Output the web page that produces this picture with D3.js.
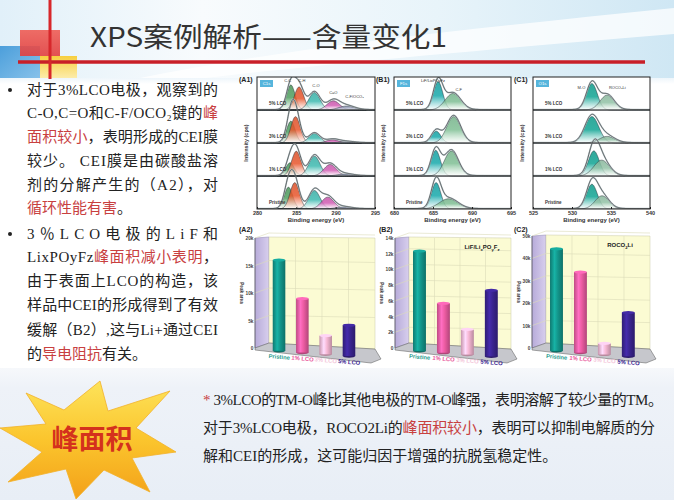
<!DOCTYPE html>
<html><head><meta charset="utf-8">
<script src="https://cdn.jsdelivr.net/npm/d3@7"></script>
<style>html,body{margin:0;padding:0;background:#fff;} svg{display:block}</style>
</head><body>
<svg id="c" width="674" height="500"></svg>
<script>
// ---------------- DATA ----------------
const titleText = "XPS案例解析——含量变化1";
const samples = ["Pristine", "1% LCO", "3% LCO", "5% LCO"];
const rowLabels = ["5% LCO", "3% LCO", "1% LCO", "Pristine"]; // XPS rows, top to bottom
const barColors = ["#13968b", "#ec5ca2", "#f6b8d4", "#3a2490"];
const catLabelColors = ["#2a9d8f", "#e8559a", "#f4c6da", "#3b2591"];

// (A2) C1s CEI peak area
const areaA2 = [16500, 9800, 3400, 5600];
const ticksA2 = [0, 5000, 10000, 15000, 20000];
const tickLabelsA2 = ["0", "5k", "10k", "15k", "20k"];
// (B2) LiF / LixPOyFz peak area
const areaB2 = [12700, 6300, 3200, 8400];
const ticksB2 = [0, 2000, 4000, 6000, 8000, 10000, 12000, 14000];
const tickLabelsB2 = ["0", "2k", "4k", "6k", "8k", "10k", "12k", "14k"];
// (C2) ROCO2Li peak area
const areaC2 = [45500, 36000, 5000, 19500];
const ticksC2 = [0, 10000, 20000, 30000, 40000, 50000];
const tickLabelsC2 = ["0", "10k", "20k", "30k", "40k", "50k"];

// XPS fitted components (center eV, relative height per row, sigma eV)
const c1sNames = ["C-C", "C-H", "C-O", "C=O", "C-F/OCO₂"];
const c1sColors = ["#4f9e5f", "#e8562c", "#3dbab0", "#d25cb4", "#9aa1bd"];
const c1sCenters = [
  [284.3, 285.35, 287.3, 289.7, 291.4],
  [284.3, 284.9, 287.3, 289.6, 291.3],
  [284.2, 285.0, 287.3, 289.3, 291.2],
  [284.0, 284.8, 287.3, 289.0, 291.0]];
const c1sHeights = [
  [0.76, 0.70, 0.53, 0.28, 0.12],
  [0.66, 0.80, 0.29, 0.10, 0.04],
  [0.40, 0.75, 0.60, 0.35, 0.06],
  [0.66, 0.80, 0.56, 0.36, 0.06]];
const c1sSigmas = [0.55, 0.6, 0.72, 0.8, 1.0];
const c1sTicks = [280, 285, 290, 295];

const f1sNames = ["LiF/LixPOyFz", "C-F"];
const f1sColors = ["#17a9ab", "#7fbf94"];
const f1sCenters = [[685.65, 687.55], [685.4, 687.65], [685.35, 687.35], [685.4, 687.0]];
const f1sHeights = [[0.86, 0.50], [0.36, 0.80], [0.78, 0.76], [0.80, 0.31]];
const f1sSigmas = [[0.6, 1.0], [0.6, 0.9], [0.6, 0.9], [0.6, 1.2]];
const f1sTicks = [680, 685, 690, 695];

const o1sNames = ["M-O", "ROCO₂Li"];
const o1sColors = ["#0fa493", "#92c2a6"];
const o1sCenters = [[532.55, 534.5], [532.55, 534.5], [532.8, 533.8], [532.55, 533.85]];
const o1sHeights = [[0.80, 0.45], [0.80, 0.20], [0.76, 0.48], [0.75, 0.40]];
const o1sSigmas = [[0.7, 0.9], [0.9, 1.0], [0.7, 1.0], [0.7, 0.9]];
const o1sTicks = [525, 530, 535, 540];

// Text content
const leftLines = [
  {y: 95, bullet: true, fit: true, segs: [["对于3%LCO电极，观察到的", 0]]},
  {y: 118, fit: true, segs: [["C-O,C=O和C-F/OCO₂键的", 0], ["峰", 1]]},
  {y: 142, fit: true, segs: [["面积较小", 1], ["，表明形成的CEI膜", 0]]},
  {y: 166, fit: true, segs: [["较少。 CEI膜是由碳酸盐溶", 0]]},
  {y: 190, fit: true, segs: [["剂的分解产生的（A2），对", 0]]},
  {y: 213, fit: false, segs: [["循环性能有害", 1], ["。", 0]]},
  {y: 239, bullet: true, fit: true, segs: [["3％LCO电极的LiF和", 0]]},
  {y: 262, fit: true, segs: [["LixPOyFz", 0], ["峰面积减小表明", 1], ["，", 0]]},
  {y: 286, fit: true, segs: [["由于表面上LCO的构造，该", 0]]},
  {y: 310, fit: true, segs: [["样品中CEI的形成得到了有效", 0]]},
  {y: 335, fit: true, segs: [["缓解（B2）,这与Li+通过CEI", 0]]},
  {y: 359, fit: false, segs: [["的", 0], ["导电阻抗", 1], ["有关。", 0]]}
];
const bottomLines = [
  {y: 405, len: 460, segs: [["* ", 1], ["3%LCO的TM-O峰比其他电极的TM-O峰强，表明溶解了较少量的TM。", 0]]},
  {y: 433, len: 452, segs: [["对于3%LCO电极，ROCO2Li的", 0], ["峰面积较小", 1], ["，表明可以抑制电解质的分", 0]]},
  {y: 461, len: null, segs: [["解和CEI的形成，这可能归因于增强的抗脱氢稳定性。", 0]]}
];
const starLabel = "峰面积";

// ---------------- DRAW ----------------
const svg = d3.select("#c");
const defs = svg.append("defs");
function lg(id, stops, x2 = 0, y2 = 1) {
  const g = defs.append("linearGradient").attr("id", id)
    .attr("x1", 0).attr("y1", 0).attr("x2", x2).attr("y2", y2);
  stops.forEach(([o, c, op]) => g.append("stop").attr("offset", o)
    .attr("stop-color", c).attr("stop-opacity", op == null ? 1 : op));
  return `url(#${id})`;
}
const SERIF = "'Liberation Serif','Noto Sans CJK SC',serif";
const SANS = "'Liberation Sans','Noto Sans CJK SC',sans-serif";
const RED = "#c8403f";

// background
svg.append("rect").attr("width", 674).attr("height", 500).attr("fill", "#ffffff");
svg.append("rect").attr("width", 674).attr("height", 80)
  .attr("fill", lg("topbg", [[0, "#e1f0f9"], [0.3, "#f8fbfd"], [0.65, "#e8f4fa"], [1, "#cfe7f4"]], 1, 0));
svg.append("path").attr("d", "M130 80 C300 45 480 28 674 8 L674 34 C480 50 300 66 190 80 Z")
  .attr("fill", "#ffffff").attr("opacity", 0.75);
svg.append("rect").attr("y", 78).attr("width", 674).attr("height", 6)
  .attr("fill", lg("fadeTop", [[0, "#eef6fb"], [1, "#ffffff"]]));
svg.append("rect").attr("y", 368).attr("width", 674).attr("height", 132)
  .attr("fill", lg("botbg", [[0, "#f6f8fb"], [0.15, "#eef2f8"], [1, "#e8eef6"]]));

// corner squares + red lines
svg.append("rect").attr("x", 0).attr("y", 46).attr("width", 40).attr("height", 32)
  .attr("fill", lg("bsq", [[0, "#4c9fdb"], [1, "#86c1ea"]], 1, 1));
svg.append("rect").attr("x", 20).attr("y", 30).attr("width", 40).attr("height", 26)
  .attr("fill", lg("rsq", [[0, "#ef5d55"], [1, "#e23f3f"]])).attr("opacity", 0.9);
svg.append("rect").attr("x", 40).attr("y", 56).attr("width", 37).attr("height", 22)
  .attr("fill", lg("ysq", [[0, "#f7cf3f"], [1, "#fcecaa"]]));
svg.append("line").attr("x1", 18).attr("x2", 645).attr("y1", 62).attr("y2", 62)
  .attr("stroke", "#c81f28").attr("stroke-width", 3.5);
svg.append("line").attr("x1", 50).attr("x2", 50).attr("y1", 0).attr("y2", 79)
  .attr("stroke", "#d7272b").attr("stroke-width", 3);

// title
svg.append("text").attr("x", 90).attr("y", 47).text(titleText)
  .attr("font-family", "'Noto Sans CJK SC',sans-serif").attr("font-size", 27)
  .attr("fill", "#333").attr("textLength", 357).attr("lengthAdjust", "spacingAndGlyphs");

// left text
leftLines.forEach(l => {
  if (l.bullet) svg.append("circle").attr("cx", 10).attr("cy", l.y - 5).attr("r", 2).attr("fill", "#222");
  const t = svg.append("text").attr("x", 27).attr("y", l.y)
    .attr("font-family", SERIF).attr("font-size", 15).attr("fill", "#222");
  if (l.fit) t.attr("textLength", 191).attr("lengthAdjust", "spacing");
  l.segs.forEach(([s, r]) => t.append("tspan").text(s).attr("fill", r ? RED : "#222"));
});

// ---------- XPS panels ----------
function xpsPanel(o) {
  const g = svg.append("g");
  const x = d3.scaleLinear().domain(o.domain).range([o.x0, o.x1]);
  const rowH = (o.y1 - o.y0) / 4;
  const clipId = "clip" + o.id;
  defs.append("clipPath").attr("id", clipId).append("rect")
    .attr("x", o.x0).attr("y", o.y0).attr("width", o.x1 - o.x0).attr("height", o.y1 - o.y0);
  g.append("rect").attr("x", o.x0).attr("y", o.y0).attr("width", o.x1 - o.x0).attr("height", o.y1 - o.y0)
    .attr("fill", "#fff");
  const gradIds = o.colors.map((c, k) => lg(`g${o.id}${k}`, [[0, d3.color(c).darker(0.2)], [0.5, c], [1, "#ffffff", 0.75]]));
  const pg = g.append("g").attr("clip-path", `url(#${clipId})`);
  const evs = d3.range(o.domain[0], o.domain[1] + 0.001, 0.05);
  for (let r = 0; r < 4; r++) {
    const base = o.y0 + (r + 1) * rowH;
    const comps = o.centers[r].map((c, k) => ({
      c, h: o.heights[r][k] * rowH,
      s: Array.isArray(o.sigmas[r]) ? o.sigmas[r][k] : o.sigmas[k]
    }));
    const f = (e, p) => p.h * Math.exp(-((e - p.c) ** 2) / (2 * p.s * p.s));
    comps.forEach((p, k) => {
      const area = d3.area().x(e => x(e)).y0(base).y1(e => base - f(e, p)).curve(d3.curveBasis);
      pg.append("path").datum(evs).attr("d", area).attr("fill", gradIds[k])
        .attr("fill-opacity", 0.85).attr("stroke", "#263238").attr("stroke-width", 0.5);
    });
    const env = d3.line().x(e => x(e)).y(e => base - d3.sum(comps, p => f(e, p)) * 1.03 - 0.5).curve(d3.curveBasis);
    pg.append("path").datum(evs).attr("d", env).attr("fill", "none").attr("stroke", "#b8c4c8").attr("stroke-width", 1.6);
    pg.append("path").datum(evs).attr("d", env).attr("fill", "none").attr("stroke", "#1b1b1b").attr("stroke-width", 0.55);
    g.append("text").attr("x", o.x0 + 12).attr("y", base - 5).text(rowLabels[r])
      .attr("font-family", SANS).attr("font-size", 4.5).attr("font-weight", "bold").attr("fill", "#333");
    if (r < 3) g.append("line").attr("x1", o.x0).attr("x2", o.x1).attr("y1", base).attr("y2", base)
      .attr("stroke", "#333").attr("stroke-width", 0.9);
  }
  g.append("rect").attr("x", o.x0).attr("y", o.y0).attr("width", o.x1 - o.x0).attr("height", o.y1 - o.y0)
    .attr("fill", "none").attr("stroke", "#222").attr("stroke-width", 1);
  // peak labels
  o.peakLabels.forEach(([name, e, yy]) => g.append("text").attr("x", x(e)).attr("y", yy).text(name)
    .attr("text-anchor", "middle").attr("font-family", SANS).attr("font-size", 4).attr("fill", "#333"));
  // core level tag
  g.append("rect").attr("x", o.x0 + 3).attr("y", o.y0 + 3).attr("width", 13).attr("height", 7).attr("fill", "#56b5dc");
  g.append("text").attr("x", o.x0 + 9.5).attr("y", o.y0 + 8.3).text(o.core).attr("text-anchor", "middle")
    .attr("font-family", SANS).attr("font-size", 4.3).attr("fill", "#fff");
  // axis
  const ax = g.append("g").attr("transform", `translate(0,${o.y1})`)
    .call(d3.axisBottom(x).tickValues(o.ticks).tickSize(-2).tickPadding(2).tickFormat(d3.format("d")));
  ax.select(".domain").remove();
  ax.selectAll("text").attr("font-family", SANS).attr("font-size", 5.5).attr("font-weight", "bold").attr("fill", "#333");
  ax.selectAll("line").attr("stroke", "#222");
  g.append("text").attr("x", (o.x0 + o.x1) / 2).attr("y", o.y1 + 13).text("Binding energy (eV)")
    .attr("text-anchor", "middle").attr("font-family", SANS).attr("font-size", 6).attr("font-weight", "bold").attr("fill", "#333");
  g.append("text").attr("transform", `translate(${o.x0 - 9},${(o.y0 + o.y1) / 2}) rotate(-90)`).text("Intensity (cps)")
    .attr("text-anchor", "middle").attr("font-family", SANS).attr("font-size", 5.5).attr("font-weight", "bold").attr("fill", "#333");
  g.append("text").attr("x", o.lx).attr("y", o.y0 + 5).text(o.label)
    .attr("font-family", SANS).attr("font-size", 7).attr("font-weight", "bold").attr("fill", "#222");
}

xpsPanel({id: "A1", x0: 257, x1: 375, y0: 77, y1: 209, domain: [280, 295], ticks: c1sTicks,
  colors: c1sColors, centers: c1sCenters, heights: c1sHeights, sigmas: c1sSigmas, core: "C1s", label: "(A1)", lx: 239,
  peakLabels: [[c1sNames[0], 283.9, 82], [c1sNames[1], 285.7, 82], [c1sNames[2], 287.5, 87], [c1sNames[3], 289.7, 94], [c1sNames[4], 292.4, 98]]});
xpsPanel({id: "B1", x0: 394, x1: 511, y0: 77, y1: 209, domain: [680, 695], ticks: f1sTicks,
  colors: f1sColors, centers: f1sCenters, heights: f1sHeights, sigmas: f1sSigmas, core: "F1s", label: "(B1)", lx: 376,
  peakLabels: [[f1sNames[0], 685.0, 82], [f1sNames[1], 688.3, 91]]});
xpsPanel({id: "C1", x0: 533, x1: 650, y0: 77, y1: 209, domain: [525, 540], ticks: o1sTicks,
  colors: o1sColors, centers: o1sCenters, heights: o1sHeights, sigmas: o1sSigmas, core: "O1s", label: "(C1)", lx: 514,
  peakLabels: [[o1sNames[0], 531.2, 89], [o1sNames[1], 535.8, 89]]});

// ---------- 3D-style bar panels ----------
const cylGrads = barColors.map((c, i) => lg("cyl" + i,
  [[0, d3.color(c).darker(0.6)], [0.35, d3.color(c).brighter(0.5)], [0.6, c], [1, d3.color(c).darker(0.8)]], 1, 0));
const wallGrad = lg("wall", [[0, "#b7abd9"], [1, "#d8cfee"]], 1, 0);
function barPanel(o) {
  const g = svg.append("g");
  const dx = 14, dy = 5, tilt = 9;
  const y = d3.scaleLinear().domain([0, o.ticks[o.ticks.length - 1]]).range([o.zero, o.top]);
  const xs = d3.scaleBand().domain(samples).range([o.ax + 7, o.ax + 7 + 4 * o.step]).padding(0.46);
  const baseAt = xx => o.zero + (xx - o.ax) / (o.right - o.ax) * tilt + 1;
  // walls
  g.append("path").attr("d", `M${o.ax},${o.top} L${o.ax + dx},${o.top - 1} L${o.ax + dx},${o.zero - dy} L${o.ax},${o.zero} Z`)
    .attr("fill", wallGrad).attr("stroke", "#8f86b0").attr("stroke-width", 0.5);
  g.append("path").attr("d", `M${o.ax + dx},${o.top - 1} L${o.right},${o.top} L${o.right},${o.zero + 1} L${o.ax + dx},${o.zero - dy} Z`)
    .attr("fill", "#fbfbd3").attr("stroke", "#c9c9a8").attr("stroke-width", 0.5);
  // grid
  o.ticks.forEach(t => {
    if (t === 0) return;
    const yy = y(t);
    g.append("path").attr("d", `M${o.ax},${yy} L${o.ax + dx},${yy - dy} L${o.right},${yy - dy + 2}`)
      .attr("fill", "none").attr("stroke", "#dcdcb8").attr("stroke-width", 0.6);
  });
  for (let k = 1; k < 4; k++) {
    const xx = o.ax + dx + k * (o.right - o.ax - dx) / 4;
    g.append("line").attr("x1", xx).attr("x2", xx).attr("y1", o.top).attr("y2", o.zero - 2)
      .attr("stroke", "#dcdcb8").attr("stroke-width", 0.6);
  }
  // floor
  g.append("path").attr("d", `M${o.ax},${o.zero} L${o.ax + dx},${o.zero - dy} L${o.right},${o.zero + 1} L${o.right + 6},${o.zero + tilt + 2} L${o.right - 4},${o.zero + tilt + 6} L${o.ax},${o.zero + 2} Z`)
    .attr("fill", "#c6c7cc").attr("stroke", "#555").attr("stroke-width", 0.5);
  // bars
  samples.forEach((s, i) => {
    const v = o.values[i];
    const xc = xs(s) + xs.bandwidth() / 2, w = xs.bandwidth();
    const b = baseAt(xc), h = o.zero - y(v), top = b - h;
    g.append("ellipse").attr("cx", xc).attr("cy", b).attr("rx", w / 2).attr("ry", 1.6).attr("fill", d3.color(barColors[i]).darker(0.8));
    g.append("rect").attr("x", xc - w / 2).attr("y", top).attr("width", w).attr("height", h).attr("fill", cylGrads[i]);
    g.append("ellipse").attr("cx", xc).attr("cy", top).attr("rx", w / 2).attr("ry", 1.6)
      .attr("fill", d3.color(barColors[i]).brighter(0.4));
    g.append("text").attr("transform", `translate(${xc},${b + 8}) rotate(5)`).text(s)
      .attr("text-anchor", "middle").attr("font-family", SANS).attr("font-size", 5.8).attr("font-weight", "bold")
      .attr("fill", catLabelColors[i]);
  });
  // y ticks
  o.ticks.forEach((t, i) => g.append("text").attr("x", o.ax - 1.5).attr("y", y(t) + 2).text(o.tickLabels[i])
    .attr("text-anchor", "end").attr("font-family", SANS).attr("font-size", 4.8).attr("font-weight", "bold").attr("fill", "#444"));
  g.append("line").attr("x1", o.ax).attr("x2", o.ax).attr("y1", o.top).attr("y2", o.zero).attr("stroke", "#555").attr("stroke-width", 0.7);
  g.append("text").attr("transform", `translate(${o.ax - 15},${(o.top + o.zero) / 2}) rotate(90)`).text("Peak area")
    .attr("text-anchor", "middle").attr("font-family", SANS).attr("font-size", 4.6).attr("font-weight", "bold").attr("fill", "#333");
  g.append("text").attr("x", o.lx).attr("y", 232).text(o.label)
    .attr("font-family", SANS).attr("font-size", 7).attr("font-weight", "bold").attr("fill", "#222");
  if (o.inner) {
    const t = g.append("text").attr("x", o.innerX).attr("y", o.top + 11)
      .attr("text-anchor", "middle").attr("font-family", SANS).attr("font-size", 6).attr("font-weight", "bold").attr("fill", "#222");
    o.inner.forEach(([s, sub]) => t.append("tspan").text(s).attr("font-size", sub ? 4.2 : 6).attr("dy", sub ? 1.5 : (sub === false ? -1.5 : 0)));
  }
}
barPanel({ax: 255, top: 238, zero: 348, right: 375, step: 26, values: areaA2, ticks: ticksA2, tickLabels: tickLabelsA2, label: "(A2)", lx: 239});
barPanel({ax: 395, top: 238, zero: 348, right: 511, step: 26.7, values: areaB2, ticks: ticksB2, tickLabels: tickLabelsB2, label: "(B2)", lx: 379,
  inner: [["LiF/Li", null], ["x", true], ["PO", false], ["y", true], ["F", false], ["z", true]], innerX: 482});
barPanel({ax: 532, top: 236, zero: 348, right: 650, step: 26.7, values: areaC2, ticks: ticksC2, tickLabels: tickLabelsC2, label: "(C2)", lx: 514,
  inner: [["ROCO", null], ["2", true], ["Li", false]], innerX: 620});

// ---------- bottom block ----------
const starPts = [[0, 428], [46, 424], [26, 393], [64, 410], [100, 381], [108, 411], [170, 391], [136, 428],
  [176, 452], [132, 458], [150, 492], [104, 470], [76, 499], [66, 469], [8, 482], [42, 452]];
svg.append("path").attr("d", d3.line()(starPts) + "Z")
  .attr("fill", lg("star", [[0, "#fde35a"], [0.5, "#fbc52d"], [1, "#f3a019"]])).attr("stroke", "#f2b12a").attr("stroke-width", 0.8);
svg.append("text").attr("x", 92).attr("y", 449).text(starLabel).attr("text-anchor", "middle")
  .attr("font-family", "'Noto Sans CJK SC',sans-serif").attr("font-size", 27).attr("font-weight", "bold").attr("fill", "#d4311d");

bottomLines.forEach(l => {
  const t = svg.append("text").attr("x", 203).attr("y", l.y)
    .attr("font-family", SERIF).attr("font-size", 15).attr("fill", "#222");
  if (l.len) t.attr("textLength", l.len).attr("lengthAdjust", "spacing");
  l.segs.forEach(([s, r]) => t.append("tspan").text(s).attr("fill", r ? RED : "#222"));
});
</script>
</body></html>
